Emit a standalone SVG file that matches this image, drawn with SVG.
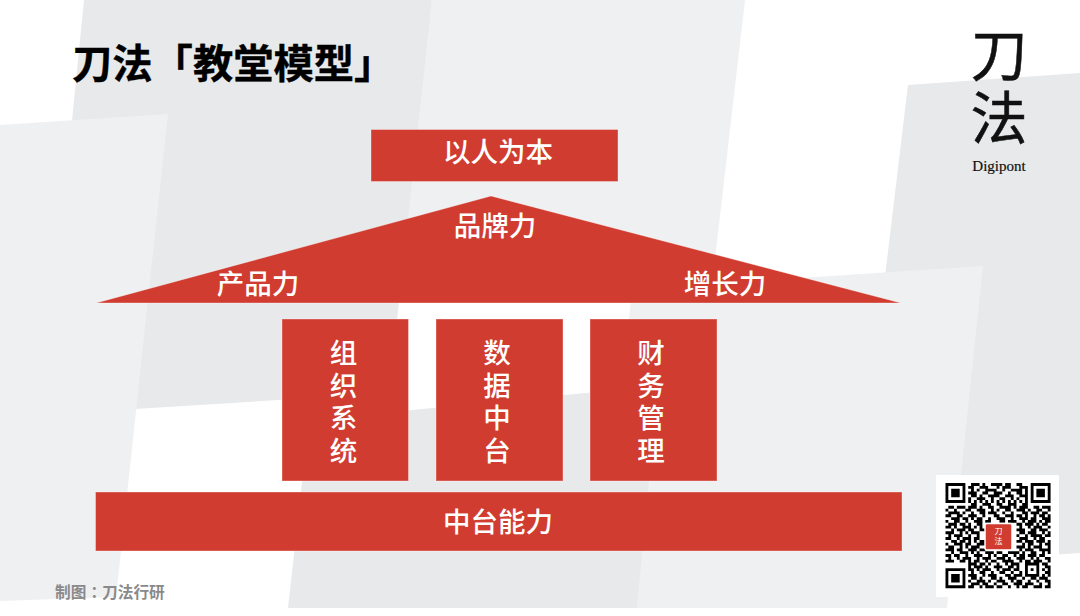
<svg xmlns="http://www.w3.org/2000/svg" width="1080" height="616" viewBox="0 0 1080 616">
<style>
text{font-family:"Noto Sans CJK SC","Noto Sans",sans-serif}
.d{fill:#e8e9eb}.l{fill:#eff0f2}
.r{fill:#d13c30;stroke:#fff;stroke-opacity:.35;stroke-width:1}
.t{fill:#fff;font-size:27.500px;font-weight:500;text-anchor:middle}
</style>
<rect width="1080" height="616" fill="#fff"/>
<g id="background">
<polygon class="l" points="432,0 745,0 712,285 395,300"/>
<polygon class="d" points="84,0 432,0 389,393 135,409 43,413"/>
<polygon class="l" points="0,125 168,114 116,597 0,601"/>
<polygon class="d" points="908,85 1080,73 1080,553 850,568"/>
<polygon class="l" points="983,266 632,289 600,608 947,608"/>
<polygon class="d" points="309,420 658,386 637,608 288,608"/>
</g>
<g id="title"><text x="72" y="78" font-size="40.300" font-weight="700" fill="#000" stroke="#000" stroke-width=".4">刀法「教堂模型」</text></g>
<g id="logo" text-anchor="middle" fill="#111">
<text x="999" y="76" font-size="57" font-weight="400" stroke="#111" stroke-width=".5">刀</text>
<text x="999" y="139" font-size="57" font-weight="400" stroke="#111" stroke-width=".5">法</text>
<text x="999" y="171" font-size="15" stroke="#111" stroke-width=".2" style="font-family:'Liberation Serif',serif">Digipont</text>
</g>
<g id="node-top"><rect class="r" x="371" y="129.500" width="247" height="52"/><text class="t" x="498" y="162">以人为本</text></g>
<g id="node-roof"><polygon class="r" points="491,196 901,303 96,303"/>
<text class="t" x="495" y="236">品牌力</text><text class="t" x="258" y="294">产品力</text><text class="t" x="725" y="294">增长力</text></g>
<g id="node-org"><rect class="r" x="282" y="319" width="126.500" height="162"/>
<text class="t" x="343.500"><tspan x="343.500" y="363">组</tspan><tspan x="343.500" y="396">织</tspan><tspan x="343.500" y="428">系</tspan><tspan x="343.500" y="461">统</tspan></text></g>
<g id="node-data"><rect class="r" x="436" y="319" width="127" height="162"/>
<text class="t"><tspan x="497" y="363">数</tspan><tspan x="497" y="396">据</tspan><tspan x="497" y="428">中</tspan><tspan x="497" y="461">台</tspan></text></g>
<g id="node-finance"><rect class="r" x="590" y="319" width="127" height="162"/>
<text class="t"><tspan x="651" y="363">财</tspan><tspan x="651" y="396">务</tspan><tspan x="651" y="428">管</tspan><tspan x="651" y="461">理</tspan></text></g>
<g id="node-base"><rect class="r" x="95.500" y="492" width="806.500" height="59"/><text class="t" x="498" y="532">中台能力</text></g>
<g id="credit"><text x="55" y="598" font-size="15.700" font-weight="700" fill="#8a8a8a">制图<tspan style="font-family:'Noto Sans CJK TC',sans-serif">：</tspan>刀法行研</text></g>
<g id="qr">
<rect x="936" y="475" width="123" height="122" fill="#fff"/>
<g transform="translate(945.500,484.500) scale(2.84)">
<path fill="none" stroke="#000" stroke-width="1" d="M0 0h7M9 0h3M13 0h1M16 0h4M21 0h2M25 0h2M30 0h7
M0 1h1M6 1h1M8 1h2M12 1h3M18 1h1M20 1h3M26 1h3M30 1h1M36 1h1
M0 2h1M2 2h3M6 2h1M9 2h1M11 2h1M14 2h4M20 2h1M23 2h4M28 2h1M30 2h1M32 2h3M36 2h1
M0 3h1M2 3h3M6 3h1M8 3h3M13 3h2M17 3h3M22 3h1M25 3h2M28 3h1M30 3h1M32 3h3M36 3h1
M0 4h1M2 4h3M6 4h1M9 4h2M12 4h1M15 4h4M21 4h3M26 4h3M30 4h1M32 4h3M36 4h1
M0 5h1M6 5h1M8 5h1M11 5h3M16 5h1M19 5h2M23 5h1M25 5h1M28 5h1M30 5h1M36 5h1
M0 6h7M8 6h1M10 6h1M12 6h1M14 6h1M16 6h1M18 6h1M20 6h1M22 6h1M24 6h1M26 6h1M28 6h1M30 6h7
M9 7h2M13 7h3M18 7h2M22 7h3M27 7h2
M1 8h2M4 8h3M8 8h3M12 8h1M15 8h2M19 8h4M24 8h1M26 8h3M31 8h2M34 8h3
M0 9h1M3 9h1M7 9h2M11 9h3M16 9h1M18 9h1M21 9h2M25 9h3M29 9h1M32 9h2M36 9h1
M1 10h4M6 10h1M9 10h1M12 10h2M15 10h3M20 10h1M23 10h1M27 10h2M30 10h3M34 10h2
M0 11h2M4 11h2M8 11h3M13 11h1M17 11h2M21 11h3M25 11h2M28 11h1M31 11h1M33 11h2M36 11h1
M2 12h3M6 12h2M9 12h1M11 12h2M15 12h1M18 12h3M23 12h1M26 12h3M30 12h2M34 12h3
M0 13h1M3 13h2M7 13h1M10 13h3M14 13h2M19 13h2M22 13h3M27 13h1M29 13h3M33 13h1M35 13h2
M1 14h3M5 14h2M8 14h1M11 14h2M25 14h2M28 14h3M32 14h1M34 14h2
M0 15h2M3 15h1M6 15h3M10 15h1M12 15h1M26 15h1M29 15h1M31 15h3M36 15h1
M2 16h1M4 16h3M8 16h2M12 16h2M25 16h3M30 16h2M33 16h3
M0 17h3M5 17h1M7 17h1M9 17h3M26 17h2M29 17h3M34 17h1M36 17h1
M1 18h1M3 18h3M8 18h1M11 18h1M25 18h1M28 18h1M30 18h4M35 18h2
M0 19h2M4 19h1M6 19h3M10 19h2M26 19h3M31 19h1M33 19h2
M2 20h2M5 20h2M8 20h1M10 20h1M12 20h2M25 20h2M28 20h3M32 20h3M36 20h1
M0 21h1M3 21h3M7 21h2M11 21h3M27 21h1M29 21h2M33 21h1M35 21h2
M1 22h2M5 22h1M7 22h1M9 22h3M25 22h3M29 22h1M31 22h3M36 22h1
M0 23h3M4 23h2M8 23h3M12 23h2M26 23h1M28 23h3M33 23h4
M2 24h1M5 24h3M9 24h1M11 24h1M14 24h3M18 24h2M22 24h4M27 24h1M30 24h2M34 24h1M36 24h1
M0 25h2M3 25h2M7 25h1M10 25h3M15 25h1M17 25h1M20 25h2M24 25h1M26 25h2M29 25h3M33 25h2
M1 26h1M4 26h1M6 26h3M11 26h1M13 26h3M18 26h3M22 26h1M25 26h3M30 26h1M32 26h1M35 26h2
M0 27h3M5 27h2M8 27h1M10 27h2M14 27h1M16 27h2M20 27h4M26 27h1M28 27h2M31 27h3M36 27h1
M8 28h3M12 28h2M15 28h1M18 28h1M21 28h1M23 28h3M28 28h5M34 28h2
M8 29h1M10 29h3M14 29h1M17 29h3M22 29h2M25 29h1M28 29h1M32 29h1M35 29h2
M0 30h7M8 30h2M11 30h1M13 30h3M18 30h1M20 30h3M24 30h2M28 30h1M30 30h1M32 30h1M34 30h1M36 30h1
M0 31h1M6 31h1M9 31h1M12 31h2M16 31h1M19 31h2M23 31h1M26 31h1M28 31h1M32 31h1M35 31h2
M0 32h1M2 32h3M6 32h1M8 32h3M13 32h1M15 32h3M21 32h2M24 32h3M28 32h5M34 32h1M36 32h1
M0 33h1M2 33h3M6 33h1M9 33h2M12 33h1M16 33h2M19 33h1M22 33h3M27 33h1M30 33h2M33 33h3
M0 34h1M2 34h3M6 34h1M8 34h1M11 34h3M15 34h1M18 34h3M23 34h1M25 34h2M29 34h1M32 34h1M35 34h2
M0 35h1M6 35h1M9 35h3M13 35h2M17 35h1M20 35h2M24 35h3M28 35h3M33 35h1M36 35h1
M0 36h7M8 36h2M12 36h1M14 36h3M18 36h2M22 36h1M25 36h1M27 36h2M31 36h3M35 36h2"/>
</g>
<rect x="985" y="523.500" width="27" height="26.500" rx="2" fill="#d13c30" stroke="#fff" stroke-width="1.500"/>
<text x="998.500" y="534" font-size="8" fill="#fff" text-anchor="middle">刀</text>
<text x="998.500" y="544" font-size="8" fill="#fff" text-anchor="middle">法</text>
</g>
</svg>
